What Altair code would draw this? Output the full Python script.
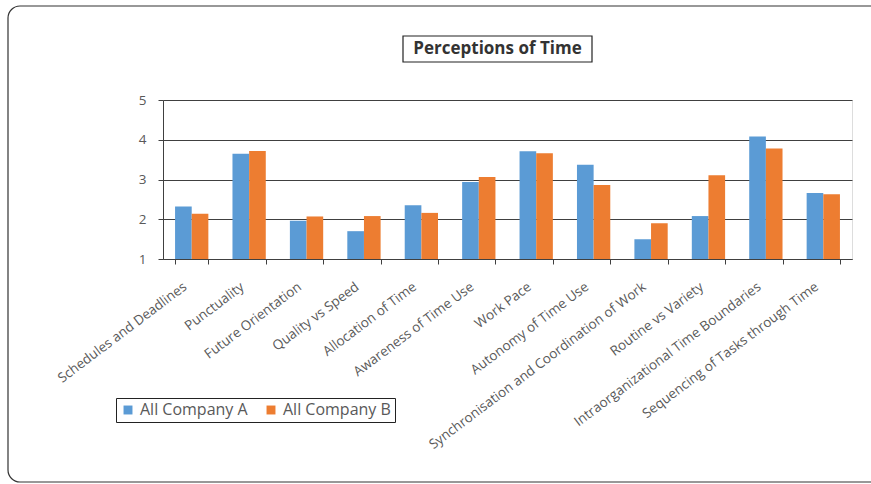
import altair as alt
import pandas as pd

categories = [
    "Schedules and Deadlines", "Punctuality", "Future Orientation", "Quality vs Speed",
    "Allocation of Time", "Awareness of Time Use", "Work Pace", "Autonomy of Time Use",
    "Synchronisation and Coordination of Work", "Routine vs Variety",
    "Intraorganizational Time Boundaries", "Sequencing of Tasks through Time",
]
company_a = [2.32, 3.65, 1.96, 1.70, 2.35, 2.94, 3.71, 3.37, 1.50, 2.08, 4.08, 2.66]
company_b = [2.14, 3.72, 2.07, 2.08, 2.16, 3.06, 3.66, 2.86, 1.90, 3.11, 3.78, 2.63]
series = ["All Company A", "All Company B"]
y_ticks = [1, 2, 3, 4, 5]
title_text = "Perceptions of Time"

rows = []
for i, c in enumerate(categories):
    rows.append({"cat": c, "series": series[0], "value": company_a[i]})
    rows.append({"cat": c, "series": series[1], "value": company_b[i]})
df = pd.DataFrame(rows)
one = pd.DataFrame({"k": [0]})

DARK = "#404040"
GRAY = "#595959"
FONT = "Open Sans"

frame = alt.Chart(one).mark_rect(
    fillOpacity=0, stroke="#333333", strokeWidth=1.2, cornerRadius=12
).encode(
    x=alt.value(-155), x2=alt.value(760), y=alt.value(-94), y2=alt.value(382)
)

bars = alt.Chart(df).mark_bar().encode(
    x=alt.X("cat:N", sort=categories, title=None,
            scale=alt.Scale(paddingInner=0.42, paddingOuter=0.21),
            axis=alt.Axis(labelAngle=-37, labelAlign="right", labelBaseline="middle",
                          labelPadding=21, labelOffset=-7, labelFont=FONT, labelFontSize=13.5,
                          labelColor=GRAY, tickBand="extent", tickSize=5,
                          tickColor=DARK, domainColor=DARK, labelLimit=400, zindex=1)),
    xOffset=alt.XOffset("series:N", sort=series),
    y=alt.Y("value:Q", title=None,
            scale=alt.Scale(domain=[1, 5], zero=False, nice=False),
            axis=alt.Axis(values=y_ticks, grid=True, gridColor=DARK, gridWidth=1,
                          tickSize=5, tickColor=DARK, domainColor=DARK,
                          labelFont=FONT, labelFontSize=13.5, labelColor=GRAY,
                          labelPadding=12, zindex=0)),
    y2=alt.datum(1),
    color=alt.Color("series:N", sort=series,
                    scale=alt.Scale(domain=series, range=["#5B9BD5", "#ED7D31"]),
                    legend=alt.Legend(title=None, orient="none", legendX=-47, legendY=298,
                                      direction="horizontal", symbolType="square",
                                      symbolSize=80, strokeColor="#222222",
                                      padding=4, labelFont=FONT, labelFontSize=16,
                                      labelColor=GRAY, columnPadding=15,
                                      symbolStrokeWidth=0)),
)

title_box = alt.Chart(one).mark_rect(
    fill="white", stroke="#222222", strokeWidth=1.2
).encode(
    x=alt.value(240), x2=alt.value(429), y=alt.value(-64), y2=alt.value(-38)
)

title = alt.Chart(one).mark_text(
    font=FONT, fontSize=17, fontWeight="bold", color="#333333",
    align="center", baseline="middle"
).encode(
    x=alt.value(334.5), y=alt.value(-51), text=alt.value(title_text)
)

chart = alt.layer(frame, bars, title_box, title).properties(
    width=689, height=159,
    padding={"left": 163, "top": 100, "right": 19, "bottom": 225},
    autosize=alt.AutoSizeParams(type="none"),
).configure_view(stroke=DARK, strokeWidth=1).configure(background="white")

chart.save("out.html", embed_options={"renderer": "svg", "actions": False})
